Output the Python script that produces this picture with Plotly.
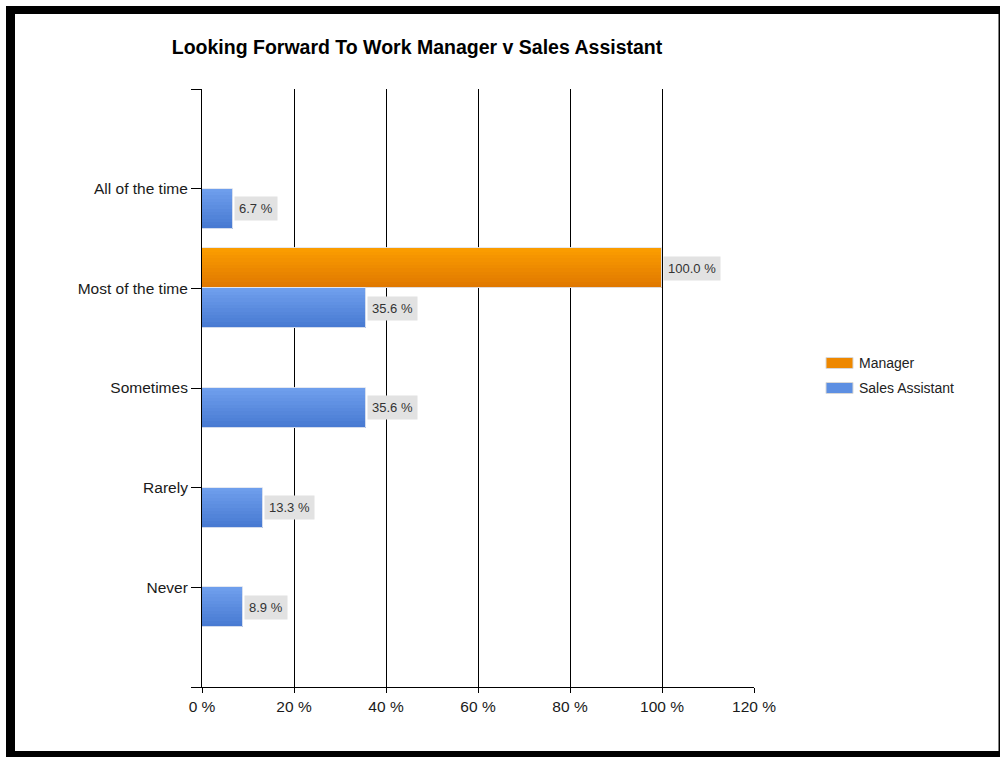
import numpy as np
import plotly.graph_objects as go

# Survey responses, listed top to bottom as they appear on the axis
categories = ["All of the time", "Most of the time", "Sometimes", "Rarely", "Never"]
manager_pct = [0.0, 100.0, 0.0, 0.0, 0.0]
sales_assistant_pct = [6.7, 35.6, 35.6, 13.3, 8.9]
x_ticks = [0, 20, 40, 60, 80, 100, 120]

W, H = 1000, 758
PL, PR, PT, PB = 202, 754, 89, 687   # plot area edges in pixels
FONT = "Liberation Sans, Arial, sans-serif"


def px_x(p):
    """pixel x -> paper (plot-domain) x"""
    return (p - PL) / (PR - PL)


def px_y(p):
    """pixel y (from top) -> paper (plot-domain) y"""
    return (PB - p) / (PB - PT)


n = len(categories)
ypos = [n - 1 - i for i in range(n)]  # first category at the top

BAR_W = 0.4      # each series takes half of a 0.8 slot
STRIPS = 12      # horizontal bands used to shade the bars


def shade(top, bottom, k):
    t = k / (STRIPS - 1)
    c = np.array(bottom) * (1 - t) + np.array(top) * t
    return "rgb(%d,%d,%d)" % tuple(np.round(c).astype(int))


series = [
    # name, values, offset of the bar relative to the category, top colour, bottom colour
    ("Manager", manager_pct, 0.0, (250, 156, 0), (224, 120, 0)),
    ("Sales Assistant", sales_assistant_pct, -BAR_W, (110, 158, 236), (72, 122, 210)),
]

fig = go.Figure()

for name, vals, off, top, bottom in series:
    for k in range(STRIPS):
        fig.add_trace(go.Bar(
            x=vals, y=ypos, orientation="h",
            width=BAR_W / STRIPS, offset=off + k * BAR_W / STRIPS,
            marker=dict(color=shade(top, bottom, k), line=dict(width=0)),
            showlegend=False, hoverinfo="skip", name=name,
        ))
    # thin light outline around each bar
    fig.add_trace(go.Bar(
        x=vals, y=ypos, orientation="h", width=BAR_W, offset=off,
        marker=dict(color="rgba(0,0,0,0)",
                    line=dict(color="rgba(225,230,240,0.9)", width=1)),
        showlegend=False, name=name,
        hovertemplate=name + ": %{x:.1f} %<extra></extra>",
    ))

    # value labels in grey boxes at the end of each bar
    for v, y in zip(vals, ypos):
        if v <= 0:
            continue
        fig.add_annotation(
            x=v, y=y + off + BAR_W / 2, xref="x", yref="y",
            text="%.1f %%" % v, showarrow=False,
            xanchor="left", yanchor="middle", xshift=1,
            font=dict(family=FONT, size=13, color="#333333"),
            bgcolor="#e2e2e2", borderpad=4,
        )

# frame around the chart
shapes = [
    dict(type="rect", xref="paper", yref="paper", layer="below",
         x0=px_x(6), x1=px_x(1000), y0=px_y(757), y1=px_y(6),
         fillcolor="black", line=dict(width=0)),
    dict(type="rect", xref="paper", yref="paper", layer="below",
         x0=px_x(15), x1=px_x(998.5), y0=px_y(751), y1=px_y(14),
         fillcolor="white", line=dict(width=0)),
]

# legend drawn as swatches with labels
legend_rows = [("Manager", "#ee8800", 363), ("Sales Assistant", "#5d8fe2", 388)]
for label, col, yc in legend_rows:
    shapes.append(dict(type="rect", xref="paper", yref="paper",
                       x0=px_x(826), x1=px_x(853),
                       y0=px_y(yc + 5.5), y1=px_y(yc - 5.5),
                       fillcolor=col, line=dict(color="#d8d8d8", width=1)))
    fig.add_annotation(x=px_x(857), y=px_y(yc), xref="paper", yref="paper",
                       text=label, showarrow=False, xanchor="left", yanchor="middle",
                       font=dict(family=FONT, size=14, color="#222222"))

fig.update_layout(
    width=W, height=H, autosize=False,
    margin=dict(l=PL, r=W - PR, t=PT, b=H - PB, pad=0),
    paper_bgcolor="white", plot_bgcolor="rgba(0,0,0,0)",
    barmode="overlay", bargap=0,
    showlegend=False,
    shapes=shapes,
    title=dict(text="<b>Looking Forward To Work Manager v Sales Assistant</b>",
               x=417 / W, xanchor="center", xref="container",
               y=1 - 47 / H, yanchor="middle", yref="container",
               font=dict(family=FONT, size=19.5, color="#000000")),
    xaxis=dict(
        range=[0, 120], tickvals=x_ticks,
        ticktext=["%d %%" % v for v in x_ticks],
        showgrid=True, gridcolor="black", gridwidth=1,
        showline=True, linecolor="black", linewidth=1,
        ticks="outside", ticklen=5, tickcolor="black",
        zeroline=False,
        tickfont=dict(family=FONT, size=15.5, color="#1a1a1a"),
    ),
    yaxis=dict(
        range=[-1, n],
        tickvals=list(range(-1, n + 1)),
        ticktext=[""] + categories[::-1] + [""],
        showgrid=False, zeroline=False,
        showline=True, linecolor="black", linewidth=1,
        ticks="outside", ticklen=10, tickcolor="black",
        tickfont=dict(family=FONT, size=15.5, color="#1a1a1a"),
    ),
)

fig.write_html("out.html")
